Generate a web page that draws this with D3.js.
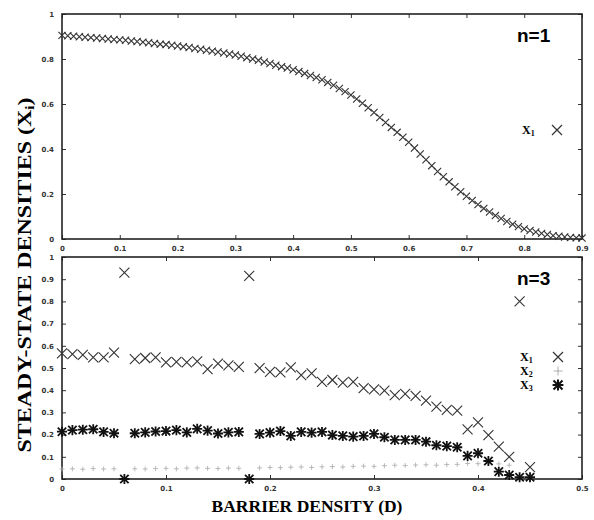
<!DOCTYPE html>
<html>
<head>
<meta charset="utf-8">
<script src="https://cdn.jsdelivr.net/npm/d3@7"></script>
<style>
  body { margin: 0; background: #fff; }
  .tick text { font-family: "DejaVu Sans", sans-serif; font-size: 7px; font-weight: bold; fill: #333; }
  .tick line { stroke: #333; }
</style>
</head>
<body>
<div id="chart"></div>
<script>
// ---- data ----
// top panel (n=1)
const densityTop = [
  0.00,0.01,0.02,0.03,0.04,0.05,0.06,0.07,0.08,0.09,
  0.10,0.11,0.12,0.13,0.14,0.15,0.16,0.17,0.18,0.19,
  0.20,0.21,0.22,0.23,0.24,0.25,0.26,0.27,0.28,0.29,
  0.30,0.31,0.32,0.33,0.34,0.35,0.36,0.37,0.38,0.39,
  0.40,0.41,0.42,0.43,0.44,0.45,0.46,0.47,0.48,0.49,
  0.50,0.51,0.52,0.53,0.54,0.55,0.56,0.57,0.58,0.59,
  0.60,0.61,0.62,0.63,0.64,0.65,0.66,0.67,0.68,0.69,
  0.70,0.71,0.72,0.73,0.74,0.75,0.76,0.77,0.78,0.79,
  0.80,0.81,0.82,0.83,0.84,0.85,0.86,0.87,0.88,0.89,
  0.90
];
const x1Top = [
  0.905,0.903,0.901,0.899,0.897,0.895,0.893,0.891,0.889,0.887,
  0.885,0.883,0.880,0.878,0.875,0.872,0.869,0.866,0.864,0.861,
  0.858,0.854,0.851,0.847,0.843,0.839,0.835,0.831,0.827,0.822,
  0.818,0.812,0.806,0.800,0.794,0.787,0.780,0.772,0.766,0.760,
  0.752,0.744,0.736,0.727,0.718,0.708,0.696,0.683,0.669,0.655,
  0.640,0.622,0.603,0.583,0.562,0.540,0.518,0.496,0.474,0.452,
  0.430,0.404,0.378,0.352,0.326,0.300,0.277,0.254,0.232,0.210,
  0.190,0.171,0.153,0.136,0.120,0.104,0.091,0.078,0.066,0.055,
  0.045,0.038,0.031,0.025,0.020,0.015,0.012,0.009,0.007,0.005,
  0.004
];

// bottom panel (n=3)
const densityBottom = [
  0.00,0.01,0.02,0.03,0.04,0.05,0.06,0.07,0.08,0.09,
  0.10,0.11,0.12,0.13,0.14,0.15,0.16,0.17,0.18,0.19,
  0.20,0.21,0.22,0.23,0.24,0.25,0.26,0.27,0.28,0.29,
  0.30,0.31,0.32,0.33,0.34,0.35,0.36,0.37,0.38,0.39,
  0.40,0.41,0.42,0.43,0.44,0.45
];
const x1Bottom = [
  0.566,0.563,0.559,0.548,0.548,0.569,0.930,0.540,0.545,0.548,
  0.525,0.528,0.525,0.530,0.495,0.520,0.512,0.505,0.915,0.499,
  0.483,0.480,0.503,0.468,0.476,0.438,0.446,0.434,0.438,0.409,
  0.404,0.398,0.378,0.383,0.374,0.353,0.326,0.311,0.308,0.224,
  0.255,0.198,0.146,0.100,0.800,0.053
];
const x2Bottom = [
  0.045,0.046,0.044,0.047,0.045,0.046,0.000,0.046,0.045,0.047,
  0.048,0.046,0.049,0.050,0.048,0.047,0.049,0.048,0.000,0.050,
  0.052,0.051,0.053,0.054,0.052,0.055,0.056,0.054,0.057,0.058,
  0.057,0.060,0.062,0.061,0.063,0.064,0.062,0.065,0.066,0.070,
  0.069,0.071,0.068,0.062,0.002,0.002
];
const x3Bottom = [
  0.213,0.220,0.222,0.224,0.212,0.206,0.000,0.206,0.210,0.214,
  0.216,0.220,0.210,0.226,0.218,0.205,0.210,0.212,0.000,0.203,
  0.209,0.216,0.194,0.212,0.209,0.212,0.198,0.194,0.191,0.194,
  0.203,0.188,0.176,0.176,0.176,0.168,0.152,0.148,0.143,0.104,
  0.116,0.081,0.033,0.018,0.008,0.008
];

const xTicksTop = [0,0.1,0.2,0.3,0.4,0.5,0.6,0.7,0.8,0.9];
const yTicksTop = [0,0.2,0.4,0.6,0.8,1];
const xTicksBottom = [0,0.1,0.2,0.3,0.4,0.5];
const yTicksBottom = [0,0.1,0.2,0.3,0.4,0.5,0.6,0.7,0.8,0.9,1];

const width = 594, height = 520;
const svg = d3.select("#chart")
    .append("svg")
    .attr("width", width)
    .attr("height", height);

const fmt = d => d === 0 ? "0" : d === 1 ? "1" : d.toFixed(1);

// gnuplot-ish point shapes
function cross(g, cx, cy, r, color, w) {
    g.append("path")
        .attr("d", `M${cx - r},${cy - r}L${cx + r},${cy + r}M${cx - r},${cy + r}L${cx + r},${cy - r}`)
        .attr("stroke", color).attr("stroke-width", w).attr("fill", "none");
}
function plus(g, cx, cy, r, color, w) {
    g.append("path")
        .attr("d", `M${cx - r},${cy}L${cx + r},${cy}M${cx},${cy - r}L${cx},${cy + r}`)
        .attr("stroke", color).attr("stroke-width", w).attr("fill", "none");
}
function star(g, cx, cy, r, color, w) {
    cross(g, cx, cy, r, color, w);
    plus(g, cx, cy, r * 1.2, color, w);
}

function panel(box, xDomain, xTicks, yTicks) {
    const x = d3.scaleLinear().domain(xDomain).range([box.left, box.right]);
    const y = d3.scaleLinear().domain([0, 1]).range([box.bottom, box.top]);
    const g = svg.append("g");

    g.append("g")
        .attr("transform", `translate(0,${box.bottom})`)
        .call(d3.axisBottom(x).tickValues(xTicks).tickFormat(fmt).tickSize(-4).tickPadding(7))
        .call(a => a.select(".domain").remove());
    g.append("g")
        .attr("transform", `translate(0,${box.top})`)
        .call(d3.axisTop(x).tickValues(xTicks).tickFormat("").tickSize(-4))
        .call(a => a.select(".domain").remove());
    g.append("g")
        .attr("transform", `translate(${box.left},0)`)
        .call(d3.axisLeft(y).tickValues(yTicks).tickFormat(fmt).tickSize(-4).tickPadding(8))
        .call(a => a.select(".domain").remove());
    g.append("g")
        .attr("transform", `translate(${box.right},0)`)
        .call(d3.axisRight(y).tickValues(yTicks).tickFormat("").tickSize(-4))
        .call(a => a.select(".domain").remove());

    g.append("rect")
        .attr("x", box.left).attr("y", box.top)
        .attr("width", box.right - box.left).attr("height", box.bottom - box.top)
        .attr("fill", "none").attr("stroke", "#222").attr("stroke-width", 1.6);

    return {g, x, y};
}

// ---- top panel ----
const topPanel = panel({left: 62, right: 582, top: 14, bottom: 239}, [0, 0.9], xTicksTop, yTicksTop);
const ptsTop = topPanel.g.append("g");
densityTop.forEach((d, i) => cross(ptsTop, topPanel.x(d), topPanel.y(x1Top[i]), 3.6, "#333", 1.1));

topPanel.g.append("text")
    .attr("x", 517).attr("y", 42)
    .style("font-family", "Liberation Sans, Arial, sans-serif")
    .style("font-weight", "bold").style("font-size", "19px")
    .text("n=1");

function legendLabel(g, xPos, yPos, sub) {
    const t = g.append("text")
        .attr("x", xPos).attr("y", yPos)
        .style("font-family", "Liberation Serif, Times New Roman, serif")
        .style("font-weight", "bold").style("font-size", "12px");
    t.append("tspan").text("X");
    t.append("tspan").attr("dy", 1.5).style("font-size", "8px").text(sub);
}
legendLabel(topPanel.g, 522, 134, "1");
cross(topPanel.g, 557, 130, 5, "#333", 1.2);

// ---- bottom panel ----
const botPanel = panel({left: 62, right: 582, top: 257, bottom: 479}, [0, 0.5], xTicksBottom, yTicksBottom);
const ptsX2 = botPanel.g.append("g");
densityBottom.forEach((d, i) => plus(ptsX2, botPanel.x(d), botPanel.y(x2Bottom[i]), 2.5, "#aaa", 0.8));
const ptsX3 = botPanel.g.append("g");
densityBottom.forEach((d, i) => star(ptsX3, botPanel.x(d), botPanel.y(x3Bottom[i]), 4.2, "#111", 1.8));
const ptsX1 = botPanel.g.append("g");
densityBottom.forEach((d, i) => cross(ptsX1, botPanel.x(d), botPanel.y(x1Bottom[i]), 5, "#333", 1.1));

botPanel.g.append("text")
    .attr("x", 517).attr("y", 285)
    .style("font-family", "Liberation Sans, Arial, sans-serif")
    .style("font-weight", "bold").style("font-size", "19px")
    .text("n=3");

legendLabel(botPanel.g, 520, 361, "1");
legendLabel(botPanel.g, 520, 375, "2");
legendLabel(botPanel.g, 520, 389, "3");
cross(botPanel.g, 558, 357, 5, "#333", 1.2);
plus(botPanel.g, 558, 371, 4.5, "#999", 0.8);
star(botPanel.g, 558, 385, 4.5, "#111", 2);

// ---- axis titles ----
svg.append("text")
    .attr("x", 307).attr("y", 512)
    .attr("text-anchor", "middle")
    .style("font-family", "Liberation Serif, Times New Roman, serif")
    .style("font-weight", "bold").style("font-size", "17.5px")
    .text("BARRIER DENSITY (D)");

const yTitle = svg.append("text")
    .attr("transform", "translate(31,275) rotate(-90)")
    .attr("text-anchor", "middle")
    .attr("textLength", 355)
    .attr("lengthAdjust", "spacingAndGlyphs")
    .style("font-family", "Liberation Serif, Times New Roman, serif")
    .style("font-weight", "bold").style("font-size", "19px");
yTitle.append("tspan").text("STEADY-STATE DENSITIES (X");
yTitle.append("tspan").attr("dy", 3).style("font-size", "12px").text("i");
yTitle.append("tspan").attr("dy", -3).text(")");
</script>
</body>
</html>
